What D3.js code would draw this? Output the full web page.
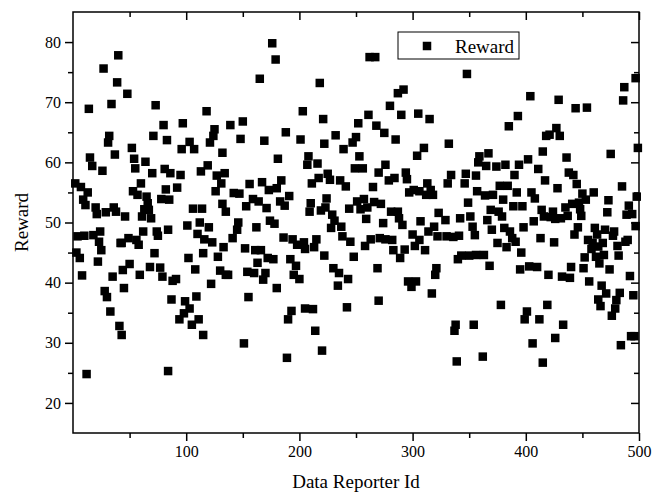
<!DOCTYPE html>
<html><head><meta charset="utf-8">
<script src="https://cdn.jsdelivr.net/npm/d3@7"></script>
<style>body{margin:0;background:#fff}svg{display:block}text{font-family:"Liberation Serif","Times New Roman",serif}</style>
</head><body><svg id="c" width="664" height="493"></svg>
<script>
// Reporter ids (x) and rewards (y)
const ids = [
40,27,39,34,14,32,31,37,15,17,26,2,7,13,9,11,20,21,29,36,38,4,10,18,24,23,25,42,3,6,22,8,35,28,30,33,41,12,
48,73,80,71,83,52,54,55,64,70,81,86,60,82,53,57,65,66,78,85,63,67,61,69,46,62,74,75,84,43,49,56,58,72,50,44,59,68,77,79,88,45,87,43,84,
118,97,125,124,121,103,96,107,132,119,113,95,92,127,134,131,126,106,114,132,135,112,101,120,110,116,123,133,102,115,128,108,130,135,91,122,99,109,103,98,94,111,105,115,
176,179,165,150,139,148,169,181,156,167,173,180,142,147,159,164,153,171,183,146,174,178,162,145,141,152,161,166,163,172,177,137,154,160,168,170,180,155,151,
218,203,221,188,201,222,208,207,216,184,211,217,225,227,191,187,210,209,219,224,223,229,228,186,194,198,204,215,205,213,222,192,197,195,200,193,190,205,212,214,220,189,
262,267,261,252,268,275,232,250,247,239,253,249,256,276,270,236,241,265,244,251,257,260,254,266,272,259,231,237,274,238,245,258,263,271,248,230,235,243,234,269,270,242,
292,287,280,290,305,315,285,310,304,294,295,279,284,313,316,297,301,306,312,318,281,287,288,291,307,323,319,314,322,300,306,276,282,283,293,289,302,311,321,320,296,303,299,317,
348,332,367,359,358,365,347,356,334,346,331,357,364,349,369,329,342,351,366,353,330,336,341,355,370,340,343,350,356,363,368,338,337,354,339,362,
404,393,385,418,415,402,374,382,394,390,411,417,377,384,392,371,405,408,380,389,397,376,379,414,416,407,398,381,386,375,388,391,383,413,396,395,403,410,378,401,399,412,406,415,
429,444,454,427,421,430,436,438,442,445,428,450,460,453,435,441,447,424,448,431,437,449,422,426,446,443,461,455,459,463,425,458,452,462,440,451,420,432,439,456,464,419,433,426,
497,487,486,499,475,485,473,498,491,472,489,494,497,470,478,477,468,481,490,488,464,469,482,465,474,492,467,471,483,495,466,480,479,476,493,496,484
];
const rewards = [
77.8,75.6,73.3,69.7,68.9,64.4,63.3,61.3,60.8,59.4,58.6,56.5,55.9,55.0,53.8,52.9,52.5,51.4,51.7,52.5,51.8,47.7,47.8,47.9,48.5,46.8,45.4,46.6,45.0,44.1,43.5,41.2,41.0,38.6,37.6,35.2,32.8,24.8,
71.4,69.5,66.2,64.4,63.7,62.4,60.6,59.0,60.1,58.2,58.9,58.2,56.5,55.5,55.2,54.6,54.3,53.2,53.9,53.8,52.2,52.1,51.0,50.7,51.0,48.5,48.5,47.8,48.8,46.6,47.4,47.1,46.3,44.9,43.1,42.1,41.3,42.6,42.5,41.0,40.3,39.1,37.2,31.3,25.3,
68.5,66.5,65.5,64.4,63.3,63.4,62.2,62.2,61.6,59.5,58.5,57.9,55.8,57.8,58.2,56.5,55.2,52.3,52.3,53.1,51.8,50.0,49.5,49.2,48.1,47.2,46.7,45.9,44.1,44.9,44.3,42.2,42.0,41.3,40.6,39.8,36.9,37.7,35.7,34.9,33.9,33.9,33.0,31.3,
79.8,77.1,73.9,66.8,66.2,63.9,63.6,60.6,56.4,56.7,55.4,55.7,54.9,54.8,53.9,53.5,52.7,52.4,53.5,50.0,50.3,49.8,49.2,48.8,47.4,45.7,45.4,45.4,43.3,44.1,43.9,41.3,41.8,41.6,40.5,41.6,39.1,37.6,29.9,
73.2,68.5,67.2,65.0,63.8,63.1,61.0,59.6,59.8,57.0,56.5,57.4,58.1,57.1,54.4,52.8,53.2,51.8,52.0,54.0,52.5,51.3,49.1,47.5,47.2,46.3,46.7,47.2,45.6,45.9,44.5,43.9,42.8,41.3,40.6,35.3,33.9,35.7,35.6,32.0,28.7,27.5,
77.5,77.5,67.9,66.5,66.1,64.9,64.5,64.2,63.3,62.2,61.0,59.0,59.0,59.6,58.3,57.0,56.0,55.9,52.3,53.5,53.9,52.5,52.2,53.4,53.1,50.6,50.3,49.3,49.9,47.7,46.8,46.1,47.2,47.4,44.3,42.4,41.6,40.6,39.5,42.4,37.0,35.9,
72.1,71.5,69.4,67.9,68.1,67.2,63.8,62.4,61.1,58.3,57.2,57.0,57.4,56.5,55.4,55.0,55.4,55.2,54.6,54.6,51.8,51.8,50.7,49.6,50.2,51.6,49.3,48.5,47.7,48.0,47.1,47.2,47.1,45.4,45.5,44.1,46.1,45.4,42.4,41.3,40.2,40.2,39.3,38.2,
74.7,63.1,61.5,61.0,60.0,59.4,58.1,57.8,57.9,56.5,56.5,55.2,54.5,53.3,52.1,50.4,50.7,51.0,50.4,49.3,47.7,47.6,47.8,47.9,48.8,43.9,44.5,44.5,44.6,44.6,42.8,33.0,32.0,33.0,26.9,27.7,
71.0,67.7,66.0,64.4,61.8,60.5,59.3,59.6,59.6,57.9,58.9,57.0,56.1,56.1,55.0,54.6,55.0,54.0,53.8,52.7,52.7,51.8,51.0,52.1,51.0,50.2,49.2,49.1,48.5,46.6,47.4,46.8,45.9,47.4,45.0,42.2,42.7,42.6,36.3,35.2,33.9,33.9,29.9,26.7,
70.4,69.0,69.1,65.7,64.6,64.4,60.8,58.3,57.9,56.4,55.7,54.8,55.0,53.8,52.5,53.1,53.3,51.8,52.2,50.7,51.1,51.1,50.9,50.6,49.2,48.0,49.1,47.1,46.6,48.0,46.7,45.6,44.2,44.3,42.6,42.4,41.3,41.0,40.8,40.2,37.2,36.3,33.0,30.8,
74.0,72.5,70.3,62.4,61.4,56.0,53.7,54.3,52.8,51.7,51.3,51.4,49.4,48.8,48.5,47.8,46.6,46.1,47.1,46.8,46.0,44.6,44.5,43.2,42.2,41.1,39.5,38.2,38.3,37.9,36.1,37.1,35.7,34.5,31.1,31.1,29.6
];
const xMajor = [100, 200, 300, 400, 500];
const xMinor = [50, 150, 250, 350, 450];
const yMajor = [20, 30, 40, 50, 60, 70, 80];
const yMinor = [25, 35, 45, 55, 65, 75];
const seriesName = "Reward";

const svg = d3.select("#c");
const L = 73, R = 639, T = 12, B = 433;
const x = d3.scaleLinear().domain([0, 500]).range([L, R]);
const y = d3.scaleLinear().domain([15, 85]).range([B, T]);

const tickStyle = g => {
  g.select(".domain").remove();
  g.selectAll("line").attr("stroke", "#000").attr("stroke-width", 1.5);
  g.selectAll("text").attr("fill", "#000").style("font-size", "16px")
   .style("font-family", '"Liberation Serif","Times New Roman",serif');
};

// bottom
svg.append("g").attr("transform", `translate(0,${B})`)
  .call(d3.axisBottom(x).tickValues(xMajor).tickSize(8).tickPadding(5).tickFormat(d3.format("d"))).call(tickStyle);
svg.append("g").attr("transform", `translate(0,${B})`)
  .call(d3.axisBottom(x).tickValues(xMinor).tickSize(5).tickFormat("")).call(tickStyle);
// top (inward)
svg.append("g").attr("transform", `translate(0,${T})`)
  .call(d3.axisBottom(x).tickValues(xMajor).tickSize(8).tickFormat("")).call(tickStyle);
svg.append("g").attr("transform", `translate(0,${T})`)
  .call(d3.axisBottom(x).tickValues(xMinor).tickSize(5).tickFormat("")).call(tickStyle);
// left
svg.append("g").attr("transform", `translate(${L},0)`)
  .call(d3.axisLeft(y).tickValues(yMajor).tickSize(8).tickPadding(4).tickFormat(d3.format("d"))).call(tickStyle);
svg.append("g").attr("transform", `translate(${L},0)`)
  .call(d3.axisLeft(y).tickValues(yMinor).tickSize(5).tickFormat("")).call(tickStyle);
// right (inward)
svg.append("g").attr("transform", `translate(${R},0)`)
  .call(d3.axisLeft(y).tickValues(yMajor).tickSize(8).tickFormat("")).call(tickStyle);
svg.append("g").attr("transform", `translate(${R},0)`)
  .call(d3.axisLeft(y).tickValues(yMinor).tickSize(5).tickFormat("")).call(tickStyle);

// frame
svg.append("rect").attr("x", L).attr("y", T).attr("width", R - L).attr("height", B - T)
  .attr("fill", "none").attr("stroke", "#000").attr("stroke-width", 1.5);

// points
const S = 8.5;
const data = ids.map((d, i) => ({id: d, r: rewards[i]}));
svg.append("g").selectAll("rect").data(data).join("rect")
  .attr("x", d => x(d.id) - S / 2).attr("y", d => y(d.r) - S / 2)
  .attr("width", S).attr("height", S).attr("fill", "#000");

// legend
const lg = svg.append("g");
lg.append("rect").attr("x", 398).attr("y", 32).attr("width", 121).attr("height", 27)
  .attr("fill", "#fff").attr("stroke", "#000").attr("stroke-width", 1);
lg.append("rect").attr("x", 427 - S / 2).attr("y", 46 - S / 2).attr("width", S).attr("height", S).attr("fill", "#000");
lg.append("text").attr("x", 455).attr("y", 53).style("font-size", "19px").text(seriesName);

// axis titles
svg.append("text").attr("x", (L + R) / 2).attr("y", 488).attr("text-anchor", "middle")
  .style("font-size", "19px").text("Data Reporter Id");
svg.append("text").attr("transform", `translate(28,${(T + B) / 2}) rotate(-90)`).attr("text-anchor", "middle")
  .style("font-size", "19px").text("Reward");
</script></body></html>
